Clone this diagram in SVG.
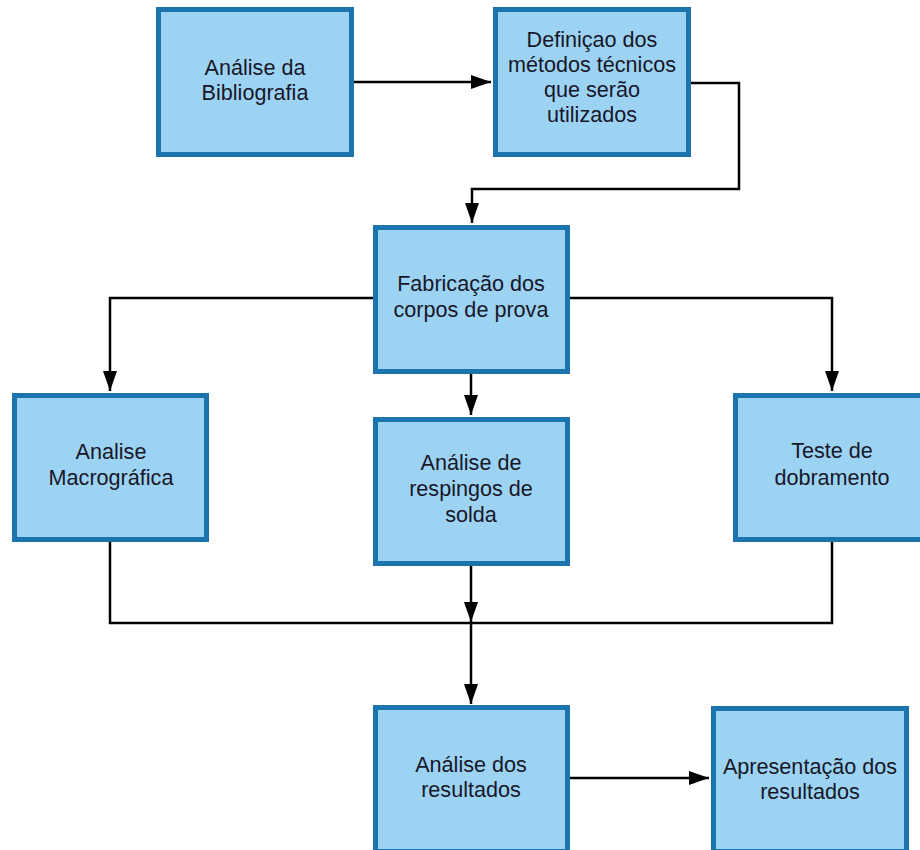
<svg xmlns="http://www.w3.org/2000/svg" width="920" height="850" viewBox="0 0 920 850">
<style>
.box{fill:#9dd3f2;stroke:#1b74ad;stroke-width:5}
.lbl{font-family:"Liberation Sans",Arial,sans-serif;font-size:21.6px;fill:#17172a;text-anchor:middle}
.conn{fill:none;stroke:#000;stroke-width:2.5}
</style>
<defs>
<marker id="arr" markerUnits="userSpaceOnUse" markerWidth="22" markerHeight="16" refX="20" refY="7" orient="auto">
<path d="M0,0 L20,7 L0,14 Z" fill="#000"/>
</marker>
</defs>
<rect width="920" height="850" fill="#fff"/>
<g id="connectors">
<path class="conn" d="M354,82 H491" marker-end="url(#arr)"/>
<path class="conn" d="M691,83 H739 V189 H472 V223" marker-end="url(#arr)"/>
<path class="conn" d="M373,298 H110 V391" marker-end="url(#arr)"/>
<path class="conn" d="M570,298 H832 V391" marker-end="url(#arr)"/>
<path class="conn" d="M471,374 V415" marker-end="url(#arr)"/>
<path class="conn" d="M110,542 V623 H832 V542"/>
<path class="conn" d="M471,566 V622" marker-end="url(#arr)"/>
<path class="conn" d="M471,623 V704" marker-end="url(#arr)"/>
<path class="conn" d="M570,778 H709" marker-end="url(#arr)"/>
</g>
<g id="n1"><rect class="box" x="158.5" y="9.5" width="193" height="145"/>
<text class="lbl" x="255" y="75">Análise da</text><text class="lbl" x="255" y="100">Bibliografia</text></g>
<g id="n2"><rect class="box" x="495.5" y="9.5" width="193" height="145"/>
<text class="lbl" x="592" y="47">Definiçao dos</text><text class="lbl" x="592" y="72">métodos técnicos</text><text class="lbl" x="592" y="97">que serão</text><text class="lbl" x="592" y="122">utilizados</text></g>
<g id="n3"><rect class="box" x="375.5" y="227.5" width="192" height="144"/>
<text class="lbl" x="471" y="291">Fabricação dos</text><text class="lbl" x="471" y="317">corpos de prova</text></g>
<g id="n4"><rect class="box" x="14.5" y="395.5" width="192" height="144"/>
<text class="lbl" x="111" y="459">Analise</text><text class="lbl" x="111" y="485">Macrográfica</text></g>
<g id="n5"><rect class="box" x="375.5" y="419.5" width="192" height="144"/>
<text class="lbl" x="471" y="470">Análise de</text><text class="lbl" x="471" y="496">respingos de</text><text class="lbl" x="471" y="522">solda</text></g>
<g id="n6"><rect class="box" x="735.5" y="395.5" width="193" height="144"/>
<text class="lbl" x="832" y="458">Teste de</text><text class="lbl" x="832" y="485">dobramento</text></g>
<g id="n7"><rect class="box" x="375.5" y="707.5" width="192" height="144"/>
<text class="lbl" x="471" y="772">Análise dos</text><text class="lbl" x="471" y="797">resultados</text></g>
<g id="n8"><rect class="box" x="713.5" y="708.5" width="193" height="143"/>
<text class="lbl" x="810" y="774">Apresentação dos</text><text class="lbl" x="810" y="799">resultados</text></g>
</svg>
